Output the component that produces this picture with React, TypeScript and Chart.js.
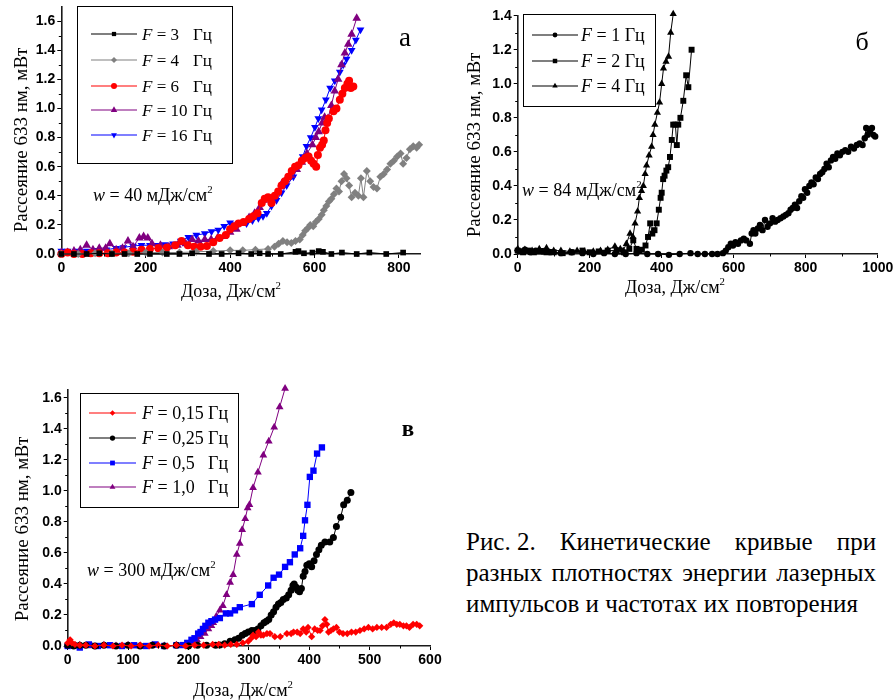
import React, { useEffect, useRef } from 'react';
import { Chart, registerables } from 'chart.js';
import { drawPoint } from 'chart.js/helpers';

Chart.register(...registerables);

type Pt = [number, number];

// ---------- Panel а (w = 40 мДж/см²) ----------
const A_F3: Pt[] = [[0,0],[30,0],[60,0],[90,0.005],[120,0],[150,0],[180,0],[210,0],[250,0],[280,0],[310,0.005],[350,0],[380,0],[420,0.005],[450,0],[470,0.005],[490,0],[520,0],[555,0.015],[562,0.02],[575,0.005],[595,0.01],[610,0.02],[620,0.015],[640,0],[665,0.01],[700,0],[730,0.01],[770,0],[810,0.01]];
const A_F4: Pt[] = [[0,0],[40,0],[80,0.005],[120,0.005],[160,0.005],[200,0.01],[240,0.01],[280,0.01],[320,0.015],[360,0.02],[400,0.025],[430,0.025],[460,0.03],[490,0.035],[505,0.05],[515,0.07],[525,0.09],[535,0.08],[545,0.075],[555,0.09],[565,0.1],[572,0.13],[578,0.16],[585,0.18],[590,0.2],[597,0.19],[603,0.22],[610,0.24],[617,0.27],[622,0.3],[628,0.33],[634,0.36],[640,0.38],[646,0.41],[652,0.45],[658,0.43],[664,0.5],[670,0.55],[676,0.52],[682,0.47],[688,0.39],[696,0.42],[704,0.4],[710,0.52],[716,0.39],[724,0.57],[732,0.5],[740,0.46],[748,0.45],[756,0.53],[764,0.55],[772,0.58],[780,0.62],[788,0.64],[796,0.67],[804,0.69],[810,0.62],[818,0.66],[826,0.72],[834,0.74],[842,0.73],[848,0.75]];
const A_F6: Pt[] = [[0,0],[15,0.01],[30,0],[50,0],[70,0.005],[90,0.005],[110,0.005],[130,0.01],[150,0.01],[170,0.015],[190,0.03],[210,0.035],[230,0.04],[250,0.045],[270,0.06],[285,0.09],[300,0.06],[315,0.05],[330,0.05],[345,0.055],[360,0.08],[375,0.11],[390,0.13],[400,0.17],[410,0.19],[420,0.21],[432,0.22],[445,0.24],[455,0.26],[465,0.28],[475,0.35],[482,0.38],[490,0.39],[498,0.35],[506,0.4],[514,0.43],[522,0.47],[530,0.5],[538,0.53],[546,0.57],[554,0.6],[562,0.61],[570,0.64],[578,0.66],[586,0.67],[592,0.64],[598,0.62],[604,0.6],[608,0.68],[613,0.73],[618,0.75],[622,0.78],[626,0.85],[630,0.9],[634,0.93],[645,0.98],[652,1.0],[660,1.06],[666,1.1],[672,1.14],[678,1.17],[682,1.19],[686,1.14],[692,1.15]];
const A_F10: Pt[] = [[0,0.01],[15,0.01],[30,0.02],[45,0.03],[60,0.06],[75,0.03],[90,0.04],[105,0.04],[115,0.07],[130,0.03],[145,0.04],[158,0.09],[170,0.05],[185,0.11],[195,0.12],[205,0.11],[215,0.07],[235,0.06],[255,0.05],[275,0.06],[295,0.07],[310,0.1],[325,0.09],[340,0.1],[355,0.1],[370,0.11],[385,0.12],[400,0.15],[415,0.17],[430,0.21],[445,0.25],[458,0.28],[470,0.32],[480,0.37],[490,0.38],[500,0.37],[512,0.42],[522,0.48],[532,0.51],[545,0.54],[558,0.58],[570,0.63],[582,0.69],[595,0.75],[603,0.8],[610,0.84],[618,0.9],[624,0.94],[632,0.93],[640,1.02],[648,1.12],[656,1.2],[664,1.3],[672,1.38],[680,1.44],[688,1.51],[700,1.62]];
const A_F16: Pt[] = [[0,0.02],[15,0.02],[40,0.02],[60,0.02],[85,0.025],[107,0.03],[130,0.04],[147,0.045],[170,0.055],[190,0.06],[210,0.06],[226,0.06],[245,0.065],[265,0.07],[283,0.09],[301,0.115],[320,0.13],[340,0.14],[356,0.155],[372,0.165],[386,0.19],[400,0.215],[420,0.21],[439,0.21],[453,0.23],[467,0.245],[478,0.26],[487,0.28],[498,0.33],[510,0.37],[522,0.42],[534,0.47],[550,0.53],[562,0.61],[572,0.67],[581,0.74],[591,0.8],[601,0.87],[609,0.93],[617,0.99],[627,1.06],[637,1.14],[648,1.19],[660,1.25],[668,1.3],[676,1.34],[688,1.4],[698,1.47],[709,1.54]];
const A_XTICKS = [0, 200, 400, 600, 800];
const A_XMINOR = [100, 300, 500, 700];
const A_YTICKS = [0, 0.2, 0.4, 0.6, 0.8, 1.0, 1.2, 1.4, 1.6];
const A_YMINOR = [0.1, 0.3, 0.5, 0.7, 0.9, 1.1, 1.3, 1.5];

// ---------- Panel б (w = 84 мДж/см²) ----------
const B_F1: Pt[] = [[0,0.02],[10,0.015],[20,0.025],[35,0.01],[50,0.02],[70,0.015],[90,0.01],[120,0.005],[150,0.01],[180,0.005],[210,0],[240,0.005],[270,0],[300,0],[330,0.005],[360,0],[390,0],[420,-0.005],[450,0],[480,0.005],[500,0],[520,0],[540,0],[555,0],[570,0.005],[578,0.02],[585,0.04],[592,0.06],[598,0.05],[605,0.07],[612,0.06],[620,0.08],[628,0.09],[635,0.08],[645,0.06],[650,0.12],[655,0.14],[660,0.12],[667,0.15],[673,0.17],[680,0.14],[687,0.2],[694,0.16],[701,0.18],[708,0.21],[715,0.19],[722,0.2],[730,0.21],[738,0.22],[745,0.23],[752,0.24],[758,0.26],[764,0.27],[770,0.29],[776,0.27],[782,0.31],[788,0.34],[793,0.33],[798,0.38],[804,0.36],[810,0.4],[816,0.42],[822,0.41],[828,0.45],[834,0.44],[840,0.47],[846,0.48],[852,0.5],[858,0.53],[864,0.51],[870,0.55],[876,0.57],[882,0.56],[888,0.59],[895,0.58],[902,0.6],[910,0.61],[918,0.6],[926,0.63],[934,0.62],[942,0.64],[950,0.65],[958,0.64],[964,0.68],[968,0.74],[972,0.7],[978,0.72],[984,0.74],[988,0.7],[993,0.69]];
const B_F2: Pt[] = [[0,0.02],[15,0.01],[30,0.02],[45,0.01],[60,0.015],[80,0.01],[100,0.01],[125,0.005],[150,0.01],[180,0.02],[200,0.01],[225,0.015],[250,0.02],[275,0.02],[295,0.01],[310,0.03],[321,0.08],[330,0.03],[337,0.02],[345,0.025],[355,0.05],[362,0.1],[368,0.18],[374,0.12],[380,0.14],[386,0.18],[392,0.26],[397,0.33],[400,0.36],[404,0.44],[408,0.46],[413,0.49],[418,0.51],[423,0.57],[428,0.67],[432,0.76],[438,0.76],[442,0.64],[446,0.76],[452,0.8],[460,0.9],[468,1.05],[474,0.98],[483,1.2]];
const B_F4: Pt[] = [[0,0.03],[20,0.025],[40,0.02],[60,0.03],[80,0.035],[100,0.02],[120,0.02],[145,0.015],[165,0.02],[185,0.015],[210,0.015],[230,0.02],[250,0.025],[270,0.045],[285,0.03],[293,0.02],[302,0.06],[312,0.12],[320,0.1],[326,0.18],[333,0.25],[338,0.33],[344,0.37],[349,0.4],[354,0.47],[358,0.52],[365,0.58],[372,0.63],[376,0.7],[381,0.76],[388,0.83],[394,0.89],[400,1.0],[405,1.09],[412,1.13],[419,1.16],[425,1.3],[432,1.41]];
const B_XTICKS = [0, 200, 400, 600, 800, 1000];
const B_XMINOR = [100, 300, 500, 700, 900];
const B_YTICKS = [0, 0.2, 0.4, 0.6, 0.8, 1.0, 1.2, 1.4];
const B_YMINOR = [0.1, 0.3, 0.5, 0.7, 0.9, 1.1, 1.3];

// ---------- Panel в (w = 300 мДж/см²) ----------
const C_F015: Pt[] = [[0,0.02],[4,0.04],[7,0.02],[12,0.01],[20,0.005],[30,0.005],[45,0],[60,0.005],[75,0],[90,0.005],[105,0],[120,0.005],[135,0],[150,0.005],[165,0],[180,0.005],[195,0],[210,0.005],[225,0.005],[240,0.01],[250,0.01],[260,0.005],[270,0.01],[280,0.01],[290,0.02],[299,0.03],[304,0.05],[307,0.07],[312,0.06],[316,0.09],[320,0.07],[324,0.07],[330,0.08],[335,0.08],[343,0.06],[352,0.06],[363,0.08],[370,0.08],[374,0.09],[380,0.09],[385,0.08],[390,0.11],[395,0.09],[398,0.12],[404,0.06],[409,0.11],[414,0.1],[418,0.1],[422,0.13],[426,0.17],[429,0.14],[432,0.09],[436,0.1],[440,0.11],[445,0.12],[450,0.09],[456,0.08],[463,0.08],[470,0.09],[477,0.09],[484,0.1],[491,0.11],[498,0.12],[505,0.11],[512,0.12],[520,0.12],[528,0.12],[535,0.14],[540,0.15],[545,0.14],[550,0.14],[556,0.13],[561,0.13],[566,0.12],[572,0.14],[578,0.14],[583,0.13]];
const C_F025: Pt[] = [[0,0.005],[10,0],[20,0.005],[30,0.005],[45,0],[60,0.005],[80,0],[100,0.005],[120,0],[140,0.005],[160,0],[180,0.005],[200,0],[215,0.005],[230,0.005],[245,0.005],[252,0.006],[260,0.015],[269,0.03],[277,0.04],[283,0.05],[289,0.07],[294,0.08],[299,0.09],[305,0.1],[310,0.1],[315,0.11],[320,0.13],[325,0.15],[329,0.16],[333,0.17],[337,0.2],[341,0.22],[345,0.25],[349,0.27],[353,0.28],[357,0.3],[362,0.31],[366,0.33],[370,0.36],[373,0.39],[375,0.4],[378,0.38],[381,0.36],[384,0.35],[387,0.37],[390,0.45],[393,0.48],[396,0.52],[400,0.53],[404,0.51],[408,0.55],[412,0.59],[416,0.62],[420,0.65],[426,0.67],[434,0.67],[440,0.7],[445,0.77],[452,0.83],[457,0.91],[463,0.94],[469,0.99]];
const C_F05: Pt[] = [[0,0],[10,0.005],[20,-0.01],[35,0.01],[50,0],[70,0.005],[90,0],[110,0.005],[130,0],[145,0.01],[160,0],[180,0.005],[191,0.006],[198,0.02],[205,0.04],[210,0.05],[216,0.08],[220,0.09],[224,0.11],[228,0.13],[233,0.15],[238,0.16],[244,0.17],[252,0.18],[262,0.21],[269,0.21],[277,0.23],[285,0.25],[305,0.27],[318,0.33],[332,0.39],[341,0.44],[350,0.46],[360,0.51],[368,0.54],[376,0.59],[385,0.63],[390,0.71],[393,0.81],[397,0.91],[401,1.09],[407,1.13],[413,1.24],[421,1.28]];
const C_F10: Pt[] = [[0,0.005],[10,0],[20,0.005],[40,0],[60,0.005],[80,0],[100,0.005],[120,0],[140,0.005],[160,0],[180,0.005],[200,0.005],[208,0.02],[214,0.04],[220,0.06],[227,0.08],[233,0.11],[238,0.13],[241,0.15],[246,0.19],[252,0.23],[257,0.26],[263,0.33],[269,0.41],[274,0.46],[280,0.59],[285,0.66],[289,0.75],[294,0.82],[298,0.89],[301,0.91],[307,1.02],[315,1.12],[324,1.23],[333,1.32],[342,1.41],[351,1.54],[360,1.66]];
const C_XTICKS = [0, 100, 200, 300, 400, 500, 600];
const C_XMINOR = [50, 150, 250, 350, 450, 550];
const C_YTICKS = [0, 0.2, 0.4, 0.6, 0.8, 1.0, 1.2, 1.4, 1.6];
const C_YMINOR = [0.1, 0.3, 0.5, 0.7, 0.9, 1.1, 1.3, 1.5];

// ---------- texts ----------
const Y_TITLE = 'Рассеяние 633 нм, мВт';
const X_TITLE = 'Доза, Дж/см';
const UNIT = 'Гц';
const CAPTION_HEAD = 'Рис. 2.';
const CAPTION = [
  'Кинетические кривые при',
  'разных плотностях энергии лазерных',
  'импульсов и частотах их повторения',
];

const SERIF = "'Liberation Serif','Times New Roman',serif";
const SANS = "'Liberation Sans',Arial,sans-serif";

type Part = { t: string; italic?: boolean; sup?: boolean };

function drawRich(ctx: CanvasRenderingContext2D, parts: Part[], x: number, yMid: number, size: number, align: 'left' | 'center', weight = 'normal') {
  const fontOf = (p: Part) => `${p.italic ? 'italic ' : ''}${weight} ${p.sup ? size * 0.6 : size}px ${SERIF}`;
  let total = 0;
  const widths = parts.map((p) => {
    ctx.font = fontOf(p);
    const w = ctx.measureText(p.t).width;
    total += w;
    return w;
  });
  let cx = align === 'center' ? x - total / 2 : x;
  const base = yMid + size * 0.33;
  ctx.textAlign = 'left';
  ctx.textBaseline = 'alphabetic';
  parts.forEach((p, i) => {
    ctx.font = fontOf(p);
    ctx.fillText(p.t, cx, p.sup ? base - size * 0.42 : base);
    cx += widths[i];
  });
}

function makeDecor(p: any) {
  return {
    id: 'decor',
    afterDraw(chart: any) {
      const ctx: CanvasRenderingContext2D = chart.ctx;
      const ox = p.canvas.x, oy = p.canvas.y;
      const xs = chart.scales.x, ys = chart.scales.y;
      const a = chart.chartArea;
      ctx.save();
      // minor ticks
      ctx.strokeStyle = '#000';
      ctx.lineWidth = 1;
      ctx.beginPath();
      for (const v of p.xMinor) {
        const px = Math.round(xs.getPixelForValue(v)) + 0.5;
        ctx.moveTo(px, a.bottom);
        ctx.lineTo(px, a.bottom + 2.5);
      }
      for (const v of p.yMinor) {
        const py = Math.round(ys.getPixelForValue(v)) + 0.5;
        ctx.moveTo(a.left - 2.5, py);
        ctx.lineTo(a.left, py);
      }
      ctx.stroke();
      ctx.fillStyle = '#000';
      // y title
      ctx.save();
      ctx.translate(p.yTitle.x - ox, p.yTitle.y - oy);
      ctx.rotate(-Math.PI / 2);
      ctx.font = `${p.yTitle.size}px ${SERIF}`;
      ctx.textAlign = 'center';
      ctx.textBaseline = 'middle';
      ctx.fillText(Y_TITLE, 0, 0);
      ctx.restore();
      // x title
      drawRich(ctx, [{ t: X_TITLE }, { t: '2', sup: true }], p.xTitle.x - ox, p.xTitle.y - oy, p.xTitle.size, 'center');
      // note
      drawRich(ctx, [{ t: 'w', italic: true }, { t: ` = ${p.note.value} мДж/см` }, { t: '2', sup: true }], p.note.x - ox, p.note.y - oy, p.note.size, 'left');
      // letter
      ctx.font = `${p.letter.weight} ${p.letter.size}px ${SERIF}`;
      ctx.textAlign = 'center';
      ctx.textBaseline = 'middle';
      ctx.fillText(p.letter.text, p.letter.x - ox, p.letter.y - oy);
      // legend
      const L = p.legend;
      ctx.fillStyle = '#fff';
      ctx.fillRect(L.x - ox, L.y - oy, L.w, L.h);
      ctx.strokeStyle = '#000';
      ctx.lineWidth = 1;
      ctx.strokeRect(Math.round(L.x - ox) + 0.5, Math.round(L.y - oy) + 0.5, L.w, L.h);
      p.series.forEach((s: any, i: number) => {
        const y = L.items[i] - oy;
        ctx.strokeStyle = s.color;
        ctx.lineWidth = 1.2;
        ctx.beginPath();
        ctx.moveTo(L.x0 - ox, y);
        ctx.lineTo(L.x1 - ox, y);
        ctx.stroke();
        ctx.fillStyle = s.color;
        drawPoint(ctx, { pointStyle: s.marker, rotation: s.rot, radius: s.r * 0.75, borderWidth: 0 } as any, (L.x0 + L.x1) / 2 - ox, y);
        ctx.fillStyle = '#000';
        if (L.ux) {
          drawRich(ctx, [{ t: 'F', italic: true }, { t: ` = ${s.mid}` }], L.tx - ox, y, L.size, 'left');
          drawRich(ctx, [{ t: UNIT }], L.ux - ox, y, L.size, 'left');
        } else {
          drawRich(ctx, [{ t: 'F', italic: true }, { t: ` = ${s.mid} ${UNIT}` }], L.tx - ox, y, L.size, 'left');
        }
      });
      ctx.restore();
    },
  };
}

const tickFont = { family: SANS, size: 14, weight: 'bold' as const };

function buildConfig(p: any) {
  const { area, canvas } = p;
  const xH = 24;
  return {
    type: 'scatter' as const,
    data: {
      datasets: p.series.map((s: any) => ({
        label: s.mid,
        data: s.data.map(([x, y]: Pt) => ({ x, y })),
        showLine: true,
        borderColor: s.color,
        backgroundColor: s.color,
        borderWidth: 1,
        pointStyle: s.marker,
        pointRotation: s.rot,
        pointRadius: s.r,
        pointHoverRadius: s.r,
        pointBorderWidth: 0,
        tension: 0,
        clip: false,
      })),
    },
    options: {
      responsive: false,
      animation: false,
      events: [],
      layout: {
        padding: {
          left: 0,
          top: area.t - canvas.y,
          right: canvas.x + canvas.w - area.r,
          bottom: canvas.y + canvas.h - area.b - xH,
        },
      },
      plugins: { legend: { display: false }, tooltip: { enabled: false } },
      scales: {
        x: {
          type: 'linear',
          min: p.xMin,
          max: p.xMax,
          afterBuildTicks: (sc: any) => { sc.ticks = p.xTicks.map((v: number) => ({ value: v })); },
          afterFit: (sc: any) => { sc.height = xH; },
          ticks: { font: tickFont, color: '#000', padding: 2, maxRotation: 0, autoSkip: false, callback: (v: any) => String(v) },
          grid: { display: true, drawOnChartArea: false, drawTicks: true, tickLength: 4, color: '#000', lineWidth: 1 },
          border: { display: true, color: '#1a1a1a', width: 1.6 },
        },
        y: {
          type: 'linear',
          min: p.yMin,
          max: p.yMax,
          afterBuildTicks: (sc: any) => { sc.ticks = p.yTicks.map((v: number) => ({ value: v })); },
          afterFit: (sc: any) => { sc.width = area.l - canvas.x; },
          ticks: { font: tickFont, color: '#000', padding: 2, autoSkip: false, callback: (v: any) => Number(v).toFixed(1) },
          grid: { display: true, drawOnChartArea: false, drawTicks: true, tickLength: 4, color: '#000', lineWidth: 1 },
          border: { display: true, color: '#1a1a1a', width: 1.6 },
        },
      },
    },
    plugins: [makeDecor(p)],
  };
}

const PANELS = [
  {
    key: 'a',
    canvas: { x: 0, y: -14, w: 450, h: 320 },
    area: { l: 61.3, r: 420, t: 6.5, b: 254 },
    xMin: 0, xMax: 850, yMin: 0, yMax: 1.7,
    xTicks: A_XTICKS, xMinor: A_XMINOR, yTicks: A_YTICKS, yMinor: A_YMINOR,
    series: [
      { mid: '3', data: A_F3, color: '#000000', marker: 'rect', rot: 0, r: 4 },
      { mid: '4', data: A_F4, color: '#808080', marker: 'rectRot', rot: 0, r: 4 },
      { mid: '6', data: A_F6, color: '#ff0000', marker: 'circle', rot: 0, r: 4 },
      { mid: '10', data: A_F10, color: '#800080', marker: 'triangle', rot: 0, r: 5 },
      { mid: '16', data: A_F16, color: '#0000ff', marker: 'triangle', rot: 180, r: 4.5 },
    ],
    yTitle: { x: 22, y: 140, size: 19 },
    xTitle: { x: 231, y: 291, size: 18 },
    note: { x: 93, y: 195, size: 18, value: '40' },
    letter: { x: 405, y: 39, size: 27, weight: 'normal', text: 'а' },
    legend: { x: 77, y: 6, w: 155, h: 157, items: [34, 60, 86, 110, 135], x0: 91, x1: 137, tx: 142, ux: 193, size: 17 },
  },
  {
    key: 'b',
    canvas: { x: 450, y: -14, w: 470, h: 320 },
    area: { l: 517.7, r: 877.7, t: 15.7, b: 254 },
    xMin: 0, xMax: 1000, yMin: 0, yMax: 1.4,
    xTicks: B_XTICKS, xMinor: B_XMINOR, yTicks: B_YTICKS, yMinor: B_YMINOR,
    series: [
      { mid: '1', data: B_F1, color: '#000000', marker: 'circle', rot: 0, r: 3.2 },
      { mid: '2', data: B_F2, color: '#000000', marker: 'rect', rot: 0, r: 4.2 },
      { mid: '4', data: B_F4, color: '#000000', marker: 'triangle', rot: 0, r: 4.2 },
    ],
    yTitle: { x: 475, y: 145, size: 19 },
    xTitle: { x: 675, y: 287, size: 18 },
    note: { x: 522, y: 190, size: 18, value: '84' },
    letter: { x: 862, y: 43, size: 26, weight: 'normal', text: 'б' },
    legend: { x: 523, y: 14, w: 132, h: 92, items: [35, 61, 86], x0: 532, x1: 578, tx: 581, ux: 0, size: 18 },
  },
  {
    key: 'c',
    canvas: { x: 0, y: 370, w: 460, h: 330 },
    area: { l: 67.7, r: 430, t: 390, b: 646 },
    xMin: 0, xMax: 600, yMin: 0, yMax: 1.65,
    xTicks: C_XTICKS, xMinor: C_XMINOR, yTicks: C_YTICKS, yMinor: C_YMINOR,
    series: [
      { mid: '0,15', data: C_F015, color: '#ff0000', marker: 'rectRot', rot: 0, r: 3.6 },
      { mid: '0,25', data: C_F025, color: '#000000', marker: 'circle', rot: 0, r: 3.5 },
      { mid: '0,5', data: C_F05, color: '#0000ff', marker: 'rect', rot: 0, r: 4.5 },
      { mid: '1,0', data: C_F10, color: '#800080', marker: 'triangle', rot: 0, r: 4.5 },
    ],
    yTitle: { x: 23, y: 529, size: 19 },
    xTitle: { x: 243, y: 690, size: 18 },
    note: { x: 87, y: 570, size: 18, value: '300' },
    letter: { x: 408, y: 430, size: 23, weight: 'bold', text: 'в' },
    legend: { x: 80, y: 393, w: 158, h: 114, items: [413, 438, 463, 487], x0: 89, x1: 136, tx: 142, ux: 208, size: 18 },
  },
];

function Panel({ def }: { def: any }) {
  const ref = useRef<HTMLCanvasElement | null>(null);
  useEffect(() => {
    const chart = new Chart(ref.current as HTMLCanvasElement, buildConfig(def) as any);
    return () => chart.destroy();
  }, [def]);
  return (
    <canvas
      ref={ref}
      width={def.canvas.w}
      height={def.canvas.h}
      style={{ position: 'absolute', left: def.canvas.x, top: def.canvas.y, width: def.canvas.w, height: def.canvas.h }}
    />
  );
}

export default function App() {
  const lineStyle = (i: number): React.CSSProperties => ({
    position: 'absolute',
    left: 466,
    width: 410,
    top: 526 + i * 31,
    height: 31,
    lineHeight: '31px',
    fontFamily: SERIF,
    fontSize: 25,
    color: '#000',
    whiteSpace: 'nowrap',
    textAlign: i < 2 ? 'justify' : 'left',
    textAlignLast: i < 2 ? 'justify' : 'left',
  } as React.CSSProperties);
  return (
    <div style={{ position: 'absolute', left: 0, top: 0, width: 894, height: 700, overflow: 'hidden', background: '#fff' }}>
      {PANELS.map((p) => <Panel key={p.key} def={p} />)}
      {CAPTION.map((t, i) => (
        <div key={i} style={lineStyle(i)}>
          {i === 0 ? <><span style={{ display: 'inline-block' }}>{CAPTION_HEAD}</span>{' '}{t}</> : t}
        </div>
      ))}
    </div>
  );
}
